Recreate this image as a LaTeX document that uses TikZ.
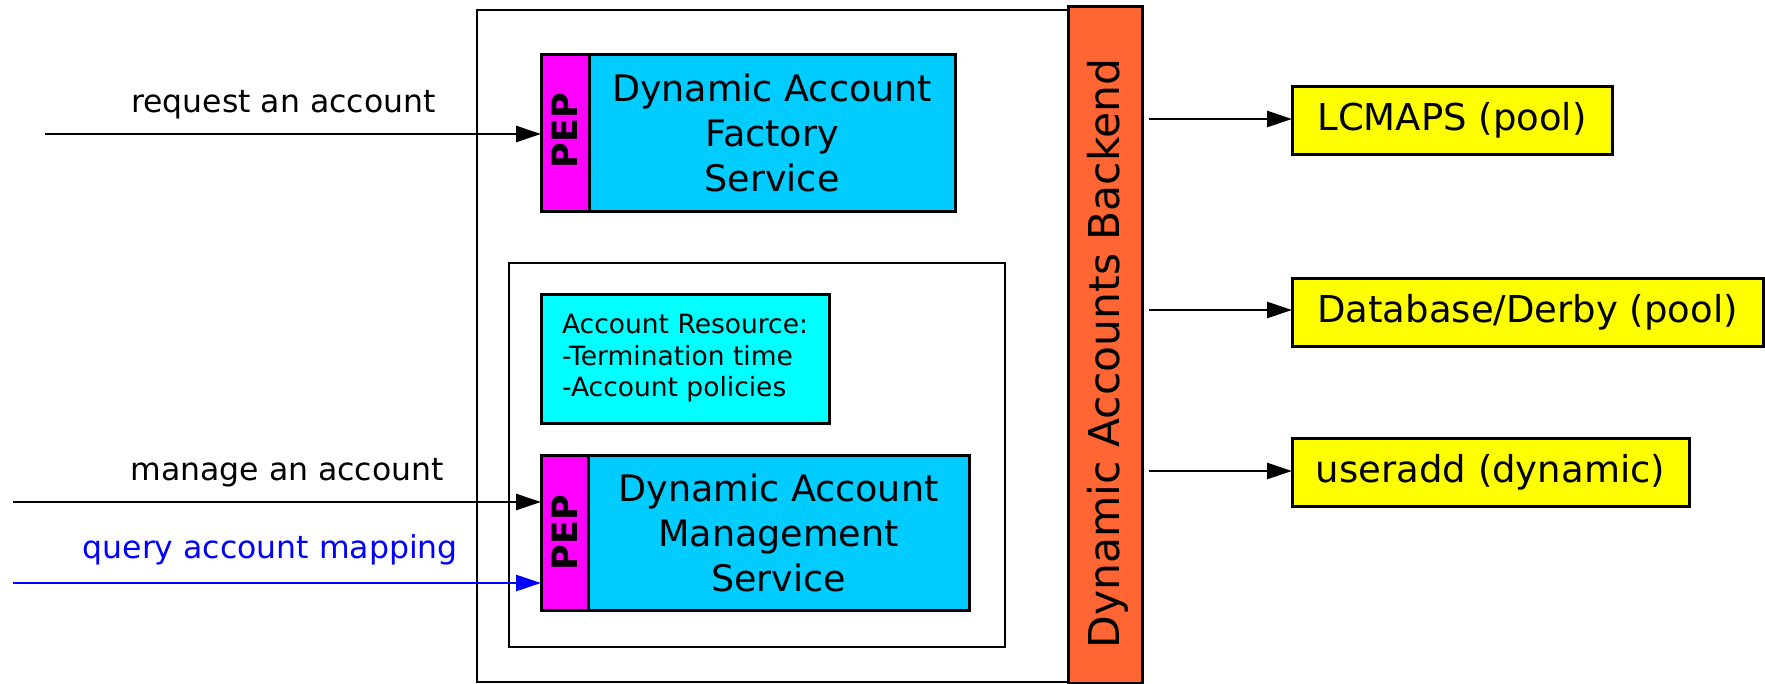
\documentclass[tikz,border=0pt]{standalone}
\usepackage{fontspec}
\setmainfont{DejaVu Sans}
\usetikzlibrary{arrows.meta}
\definecolor{pepc}{HTML}{FF00FF}
\definecolor{svcc}{HTML}{00CCFF}
\definecolor{resc}{HTML}{00FFFF}
\definecolor{backc}{HTML}{FF6633}
\definecolor{yelc}{HTML}{FFFF00}
\definecolor{qblue}{HTML}{0000FF}
\newcommand\fsz[2]{\fontsize{#1}{#2}\selectfont}
\begin{document}
\begin{tikzpicture}[x=1pt,y=-1pt,
  bx/.style={draw=black, line width=3pt, inner sep=0pt, outer sep=0pt, anchor=north west, align=center},
  frame/.style={bx, line width=2.6pt},
  pepbox/.style={bx, fill=pepc},
  svcbox/.style={bx, fill=svcc, font=\fsz{36.5}{45}},
  resbox/.style={bx, fill=resc, font=\fsz{26.5}{31.5}, align=left},
  yelbox/.style={bx, fill=yelc, font=\fsz{37}{44}},
  peptext/.style={rotate=90, font=\bfseries\fsz{35}{40}, inner sep=0pt},
  lbl/.style={anchor=base east, inner sep=0pt, font=\fsz{31.5}{36}},
  arr/.style={line width=2.6pt, -{Triangle[length=25pt,width=16pt]}},
]
\useasboundingbox (0,0) rectangle (1765,683);
% outer container and backend
\node[frame, minimum width=592pt, minimum height=672pt] (outer) at (477,10) {};
\node[bx, fill=backc, minimum width=74pt, minimum height=677pt] (backend) at (1068,6) {};
\node[rotate=90, inner sep=0pt, font=\fsz{42.5}{48}] (backtext) at ([xshift=3pt,yshift=-9pt]backend.center) {Dynamic Accounts Backend};
% factory service
\node[pepbox, minimum width=48pt, minimum height=157pt] (pep1) at (541,54) {};
\node[peptext] (pep1t) at ([yshift=2pt]pep1.center) {PEP};
\node[svcbox, minimum width=366pt, minimum height=157pt] (fac) at (589,54) {Dynamic Account\\Factory\\Service};
% inner container
\node[frame, minimum width=496pt, minimum height=384pt] (inner) at (509,263) {};
\node[resbox, minimum width=288pt, minimum height=129pt] (res) at (541,294) {Account Resource:\\-Termination time\\-Account policies};
\node[pepbox, minimum width=47pt, minimum height=155pt] (pep2) at (541,455) {};
\node[peptext] (pep2t) at (pep2.center) {PEP};
\node[svcbox, minimum width=381pt, minimum height=155pt] (mgmt) at (588,455) {Dynamic Account\\Management\\Service};
% backends
\node[yelbox, minimum width=320pt, minimum height=68pt] (lcmaps) at (1292,86) {LCMAPS (pool)};
\node[yelbox, minimum width=471pt, minimum height=68pt] (derby) at (1292,278) {Database/Derby (pool)};
\node[yelbox, minimum width=397pt, minimum height=68pt] (useradd) at (1292,438) {useradd (dynamic)};
% incoming arrows
\coordinate (s1) at (45,134);
\coordinate (s2) at (13,502);
\coordinate (s3) at (13,583);
\draw[arr] (s1) -- (pep1.west |- s1);
\draw[arr] (s2) -- (pep2.west |- s2);
\draw[arr, draw=qblue, fill=qblue] (s3) -- (pep2.west |- s3);
\node[lbl] (l1) at (436,112) {request an account};
\node[lbl] (l2) at (444,480) {manage an account};
\node[lbl, text=qblue] (l3) at (458,558) {query account mapping};
% outgoing arrows
\coordinate (b1) at (1149,119);
\coordinate (b2) at (1149,310);
\coordinate (b3) at (1149,471);
\draw[arr] (b1) -- (lcmaps.west |- b1);
\draw[arr] (b2) -- (derby.west |- b2);
\draw[arr] (b3) -- (useradd.west |- b3);
\end{tikzpicture}
\end{document}
